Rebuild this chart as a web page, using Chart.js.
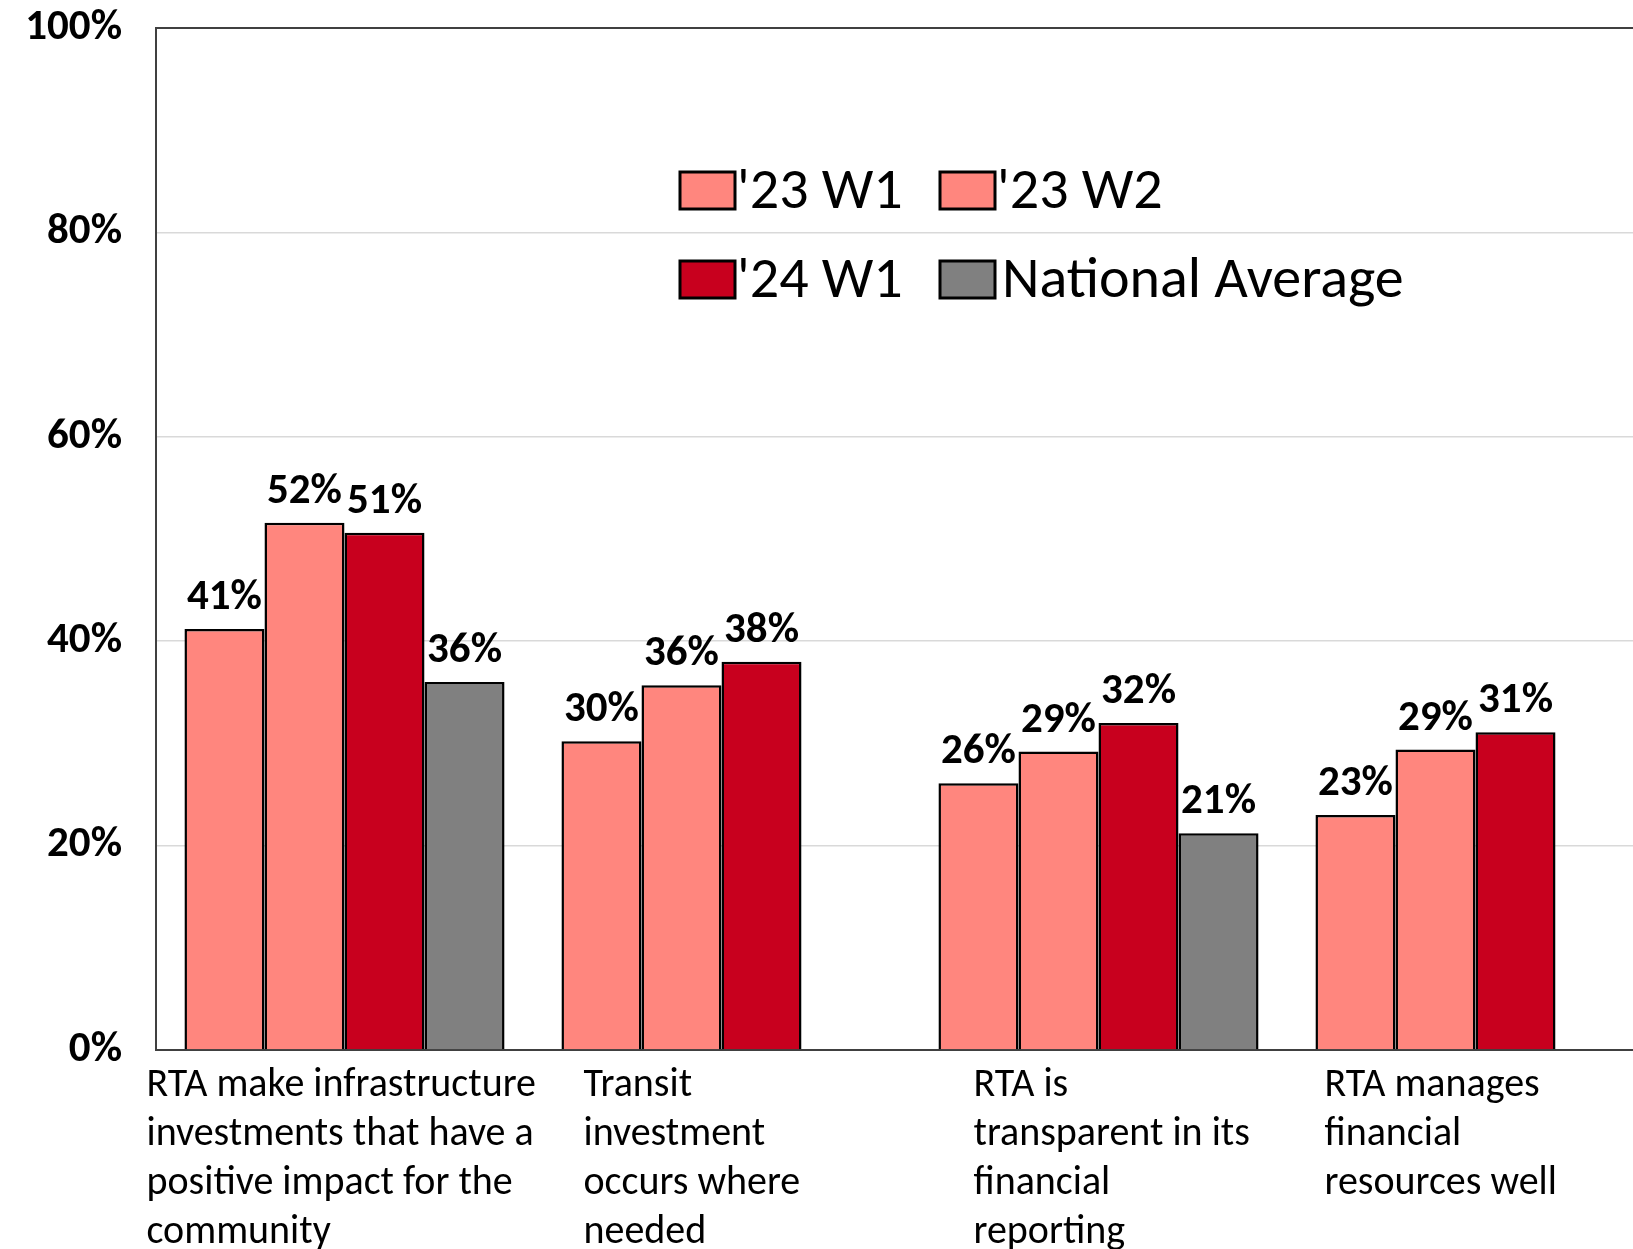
<!DOCTYPE html>
<html>
<head>
<meta charset="utf-8">
<title>RTA chart</title>
<script src="https://cdn.jsdelivr.net/npm/chart.js@4.4.1/dist/chart.umd.min.js"></script>
<style>
    html, body { margin: 0; padding: 0; background: #fff; overflow: hidden; }
    #wrap { position: absolute; left: 0; top: 0; width: 1700px; height: 1300px; }
</style>
</head>
<body>
<div id="wrap"><canvas id="chart" width="1700" height="1300"></canvas></div>
<script>
// Kategori (sudah dipecah per baris seperti di gambar)
const categories = [
    ['RTA make infrastructure', 'investments that have a', 'positive impact for the', 'community'],
    ['Transit', 'investment', 'occurs where', 'needed'],
    ['RTA is', 'transparent in its', 'financial', 'reporting'],
    ['RTA manages', 'financial', 'resources well']
];
const seriesNames = ["'23 W1", "'23 W2", "'24 W1", 'National Average'];

// Nilai (%)
const w1_23       = [41.2, 30.2, 26.1, 23.0];
const w2_23       = [51.6, 35.7, 29.2, 29.4];
const w1_24       = [50.6, 38.0, 32.0, 31.1];
const nationalAvg = [36.0, null, 21.2, null];

const yTicks = [0, 20, 40, 60, 80, 100];

const FONT = "Carlito, Lato, 'Open Sans', sans-serif";
const seriesColors = ['#ff867e', '#ff867e', '#c8001e', '#808080'];

// Label kategori digambar sendiri (rata kiri, geser per kategori)
const labelShift = [-198, -138, -125, -151];
const categoryLabels = {
    id: 'categoryLabels',
    afterDraw(chart) {
        const { ctx, chartArea } = chart;
        const xs = chart.scales.x;
        ctx.save();
        ctx.font = `40px ${FONT}`;
        ctx.fillStyle = '#000';
        ctx.textAlign = 'left';
        ctx.textBaseline = 'middle';
        categories.forEach((lines, i) => {
            const x = xs.getPixelForValue(i) + labelShift[i];
            lines.forEach((t, j) => ctx.fillText(t, x, chartArea.bottom + 36 + j * 49));
        });
        ctx.restore();
    }
};

// Label nilai di atas batang
const valueLabels = {
    id: 'valueLabels',
    afterDatasetsDraw(chart) {
        const { ctx } = chart;
        ctx.save();
        ctx.font = `bold 43px ${FONT}`;
        ctx.fillStyle = '#000';
        ctx.textAlign = 'center';
        ctx.textBaseline = 'alphabetic';
        chart.data.datasets.forEach((ds, di) => {
            chart.getDatasetMeta(di).data.forEach((bar, i) => {
                const v = ds.data[i];
                if (v == null) return;
                ctx.fillText(Math.round(v) + '%', bar.x, bar.y - 20);
            });
        });
        ctx.restore();
    }
};

// Legenda 2x2 di dalam area plot
const boxLegend = {
    id: 'boxLegend',
    afterDraw(chart) {
        const { ctx, chartArea } = chart;
        const cols = [chartArea.left + 524, chartArea.left + 784];
        const rows = [chartArea.top + 162, chartArea.top + 251];
        ctx.save();
        ctx.font = `58px ${FONT}`;
        ctx.textAlign = 'left';
        ctx.textBaseline = 'middle';
        chart.data.datasets.forEach((ds, i) => {
            const x = cols[i % 2];
            const y = rows[Math.floor(i / 2)];
            ctx.fillStyle = ds.backgroundColor;
            ctx.fillRect(x, y - 18, 55, 37);
            ctx.lineWidth = 3;
            ctx.strokeStyle = '#000';
            ctx.strokeRect(x, y - 18, 55, 37);
            ctx.fillStyle = '#000';
            ctx.fillText(ds.label, x + (i === 3 ? 62 : 57), y + 3);
        });
        ctx.restore();
    }
};

const seriesData = [w1_23, w2_23, w1_24, nationalAvg];

new Chart(document.getElementById('chart'), {
    type: 'bar',
    data: {
        labels: categories.map(c => c.join(' ')),
        datasets: seriesNames.map((name, i) => ({
            label: name,
            data: seriesData[i],
            backgroundColor: seriesColors[i],
            borderColor: '#000',
            borderWidth: 2.5,
            categoryPercentage: 0.849,
            barPercentage: 1.0
        }))
    },
    options: {
        responsive: false,
        animation: false,
        layout: { padding: { top: 28, right: 36, left: 0, bottom: 0 } },
        plugins: {
            legend: { display: false },
            tooltip: { enabled: false }
        },
        scales: {
            x: {
                grid: { display: false },
                border: { color: '#404040', width: 2 },
                ticks: { display: false },
                afterFit: s => { s.height = 250; }
            },
            y: {
                min: 0,
                max: 100,
                afterBuildTicks: s => { s.ticks = yTicks.map(v => ({ value: v })); },
                grid: {
                    drawTicks: false,
                    color: c => c.tick && c.tick.value === 100 ? '#404040' : '#d9d9d9',
                    lineWidth: c => c.tick && c.tick.value === 100 ? 2 : 1.5
                },
                border: { color: '#404040', width: 2 },
                ticks: {
                    padding: 34,
                    color: '#000',
                    font: { family: FONT, size: 43, weight: 'bold' },
                    callback: v => v + '%'
                },
                afterFit: s => {
                    s.width = 156;
                    s.paddingTop = 0;
                    s.paddingBottom = 0;
                }
            }
        }
    },
    plugins: [valueLabels, categoryLabels, boxLegend]
});
</script>
</body>
</html>
